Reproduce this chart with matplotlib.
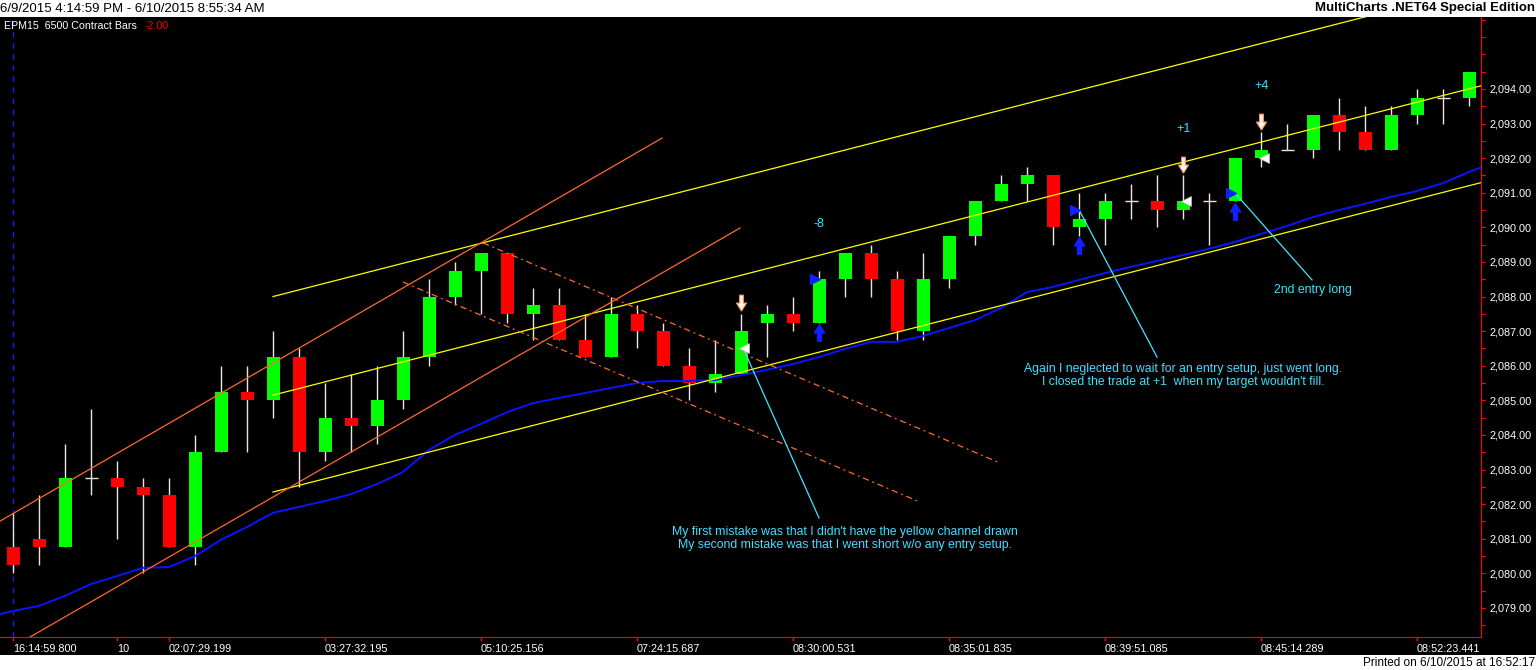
import numpy as np
import matplotlib.pyplot as plt
from matplotlib.path import Path
from matplotlib.patches import Rectangle
from matplotlib.ticker import MultipleLocator, FuncFormatter

plt.rcParams['font.family'] = ['Liberation Sans', 'DejaVu Sans']

# 6500 contract bars, EPM15
opens = [2080.75, 2081.00, 2080.75, 2082.75, 2082.75, 2082.50, 2082.25, 2080.75, 2083.50, 2085.25,
         2085.00, 2086.25, 2083.50, 2084.50, 2084.25, 2085.00, 2086.25, 2088.00, 2088.75, 2089.25,
         2087.50, 2087.75, 2086.75, 2086.25, 2087.50, 2087.00, 2086.00, 2085.50, 2085.75, 2087.25,
         2087.50, 2087.25, 2088.50, 2089.25, 2088.50, 2087.00, 2088.50, 2089.75, 2090.75, 2091.25,
         2091.50, 2090.00, 2090.25, 2090.75, 2090.75, 2090.50, 2090.75, 2090.75, 2092.00, 2092.25,
         2092.25, 2093.25, 2092.75, 2092.25, 2093.25, 2093.75, 2093.75]
highs = [2081.75, 2082.25, 2083.75, 2084.75, 2083.25, 2082.75, 2082.75, 2084.00, 2086.00, 2086.00,
         2087.00, 2086.50, 2085.50, 2085.75, 2086.00, 2087.00, 2088.50, 2089.00, 2089.25, 2089.25,
         2088.25, 2088.25, 2087.50, 2088.00, 2087.75, 2087.25, 2086.50, 2086.75, 2087.50, 2087.75,
         2088.00, 2088.75, 2089.25, 2089.50, 2088.75, 2089.25, 2089.75, 2090.75, 2091.50, 2091.75,
         2091.50, 2091.00, 2091.00, 2091.25, 2091.50, 2091.50, 2091.00, 2092.00, 2092.75, 2093.00,
         2093.25, 2093.75, 2093.50, 2093.50, 2094.00, 2094.00, 2094.50]
lows = [2080.00, 2080.25, 2080.75, 2082.25, 2081.00, 2080.00, 2080.75, 2080.25, 2083.50, 2083.50,
        2084.50, 2082.50, 2083.25, 2083.50, 2083.75, 2084.75, 2086.00, 2087.75, 2087.50, 2087.25,
        2086.75, 2086.75, 2086.25, 2086.25, 2086.50, 2086.00, 2085.00, 2085.25, 2085.75, 2086.25,
        2087.00, 2087.25, 2088.00, 2088.00, 2086.75, 2086.75, 2088.25, 2089.50, 2090.75, 2090.75,
        2089.50, 2089.75, 2089.50, 2090.25, 2090.00, 2090.25, 2089.50, 2090.75, 2091.75, 2092.25,
        2092.00, 2092.25, 2092.25, 2092.25, 2093.00, 2093.00, 2093.50]
closes = [2080.25, 2080.75, 2082.75, 2082.75, 2082.50, 2082.25, 2080.75, 2083.50, 2085.25, 2085.00,
          2086.25, 2083.50, 2084.50, 2084.25, 2085.00, 2086.25, 2088.00, 2088.75, 2089.25, 2087.50,
          2087.75, 2086.75, 2086.25, 2087.50, 2087.00, 2086.00, 2085.50, 2085.75, 2087.00, 2087.50,
          2087.25, 2088.50, 2089.25, 2088.50, 2087.00, 2088.50, 2089.75, 2090.75, 2091.25, 2091.50,
          2090.00, 2090.25, 2090.75, 2090.75, 2090.50, 2090.75, 2090.75, 2092.00, 2092.25, 2092.25,
          2093.25, 2092.75, 2092.25, 2093.25, 2093.75, 2093.75, 2094.50]

# moving average, bars -1 .. 57
ma_bars = list(range(-1, 58))
ma_vals = [2078.74, 2078.91, 2079.06, 2079.35, 2079.69, 2079.92, 2080.16, 2080.18, 2080.50, 2080.97,
           2081.34, 2081.75, 2081.92, 2082.09, 2082.29, 2082.58, 2082.93, 2083.57, 2084.00, 2084.32,
           2084.66, 2084.92, 2085.07, 2085.21, 2085.36, 2085.50, 2085.56, 2085.56, 2085.59, 2085.73,
           2085.88, 2086.05, 2086.25, 2086.49, 2086.69, 2086.69, 2086.86, 2087.09, 2087.32, 2087.67,
           2088.13, 2088.28, 2088.48, 2088.68, 2088.86, 2089.03, 2089.20, 2089.38, 2089.58, 2089.81,
           2090.04, 2090.30, 2090.50, 2090.68, 2090.88, 2091.05, 2091.28, 2091.60, 2091.89]

# drawings: (bar1, price1, bar2, price2)
yellow_lines = [(10, 2088.00, 56.5, 2096.95),
                (10, 2085.15, 56.5, 2094.10),
                (10, 2082.35, 56.5, 2091.30)]
orange_lines = [(-0.5, 2081.51, 24.96, 2092.58),
                (-0.5, 2077.66, 27.96, 2089.98)]
orange_dashed = [(18.08, 2089.55, 37.96, 2083.19),
                 (15.00, 2088.42, 34.88, 2082.06)]
pointer_lines = [(28.08, 2086.51, 31.0, 2081.60),
                 (41.04, 2090.45, 44.0, 2086.25),
                 (47.0, 2090.99, 49.96, 2088.48)]

# trades
sell_bars = [28, 45, 48]
sell_prices = [2086.50, 2090.75, 2092.00]
buy_bars = [31, 41, 47]
buy_prices = [2088.50, 2090.50, 2091.00]
pnl_bars = [31, 45, 48]
pnl_text = ['-8', '+1', '+4']

notes = [(32.0, 2081.0, "My first mistake was that I didn't have the yellow channel drawn\n"
                        "My second mistake was that I went short w/o any entry setup."),
         (45.0, 2085.72, "Again I neglected to wait for an entry setup, just went long.\n"
                         "I closed the trade at +1  when my target wouldn't fill."),
         (50.0, 2088.19, "2nd entry long")]

tick_bars = [0, 4, 6, 12, 18, 24, 30, 36, 42, 48, 54]
tick_labels = ['16:14:59.800', '10', '02:07:29.199', '03:27:32.195', '05:10:25.156',
               '07:24:15.687', '08:30:00.531', '08:35:01.835', '08:39:51.085',
               '08:45:14.289', '08:52:23.441']

opens, highs, lows, closes = map(np.array, (opens, highs, lows, closes))
idx = np.arange(len(opens))

fig = plt.figure(figsize=(15.36, 6.70), dpi=100, facecolor='black')
fig.add_artist(Rectangle((0, 1 - 17 / 670), 1, 17 / 670, transform=fig.transFigure,
                         facecolor='white', edgecolor='none'))
fig.add_artist(Rectangle((0, 0), 1, 15 / 670, transform=fig.transFigure,
                         facecolor='white', edgecolor='none'))
fig.text(0.0, 1 - 8.5 / 670, '6/9/2015 4:14:59 PM - 6/10/2015 8:55:34 AM', fontsize=9.5,
         color='black', ha='left', va='center')
fig.text(0.9995, 1 - 8.5 / 670, 'MultiCharts .NET64 Special Edition', fontsize=9.5,
         color='black', ha='right', va='center', fontweight='bold')
fig.text(0.9995, 7.5 / 670, 'Printed on 6/10/2015 at 16:52:17', fontsize=8.5,
         color='black', ha='right', va='center')

ax = fig.add_axes([0, 33 / 670, 1481 / 1536, 620 / 670], facecolor='black')
ax.set_xlim(-0.5, 56.46)
ax.set_ylim(2078.16, 2096.08)

wick = '#f2e2e2'
ax.vlines(idx, lows, highs, color=wick, lw=1, zorder=2)
up = closes > opens
dn = closes < opens
fl = closes == opens
ax.bar(idx[up], closes[up] - opens[up], bottom=opens[up], width=0.5, color='#00ff00',
       linewidth=0, zorder=3)
ax.bar(idx[dn], opens[dn] - closes[dn], bottom=closes[dn], width=0.5, color='#ff0000',
       linewidth=0, zorder=3)
ax.hlines(opens[fl], idx[fl] - 0.25, idx[fl] + 0.25, color=wick, lw=1, zorder=3)

ax.axvline(0, color='#1a1aee', lw=1, dashes=(4, 4), zorder=1)
ax.plot(ma_bars, ma_vals, color='#0a14ff', lw=1.4, zorder=4)

for x1, y1, x2, y2 in yellow_lines:
    ax.plot([x1, x2], [y1, y2], color='#ffff00', lw=0.9, zorder=5)
for x1, y1, x2, y2 in orange_lines:
    ax.plot([x1, x2], [y1, y2], color='#ff6a2a', lw=0.9, zorder=5)
for x1, y1, x2, y2 in orange_dashed:
    ax.plot([x1, x2], [y1, y2], color='#ff6a2a', lw=0.9, dashes=(5, 3, 1.5, 3), zorder=5)
for x1, y1, x2, y2 in pointer_lines:
    ax.plot([x1, x2], [y1, y2], color='#40e8ff', lw=0.9, zorder=5)

arrow_down = Path([(-0.22, 1), (0.22, 1), (0.22, 0.05), (0.6, 0.05), (0, -0.9),
                   (-0.6, 0.05), (-0.22, 0.05), (-0.22, 1)], closed=True)
arrow_up = Path([(x, -y) for x, y in arrow_down.vertices], closed=True)

sell_h = highs[sell_bars]
buy_l = lows[buy_bars]
ax.plot(sell_bars, sell_h + 0.3, ls='none', marker=arrow_down, ms=12,
        mfc='#fff4ee', mec='#ff9a66', mew=0.8, zorder=6)
ax.plot(buy_bars, buy_l - 0.27, ls='none', marker=arrow_up, ms=12.5,
        mfc='#1020ff', mec='#1020ff', zorder=6)
ax.plot(np.array(sell_bars) + 0.1, sell_prices, ls='none', marker='<', ms=6.5,
        mfc='white', mec='#c0c0c0', mew=0.5, zorder=6)
ax.plot(np.array(buy_bars) - 0.15, buy_prices, ls='none', marker='>', ms=6.5,
        mfc='#1020ff', mec='#1020ff', zorder=6)

for b, t in zip(pnl_bars, pnl_text):
    ax.text(b, highs[b] + 1.35, t, color='#3ee0ff', fontsize=9, ha='center', va='center')

for x, y, t in notes:
    ax.text(x, y, t, color='#3ee0ff', fontsize=8.8, ha='center', va='center',
            multialignment='center', linespacing=1.15, zorder=7)

# axes styling
for s in ('top', 'left'):
    ax.spines[s].set_visible(False)
ax.spines['right'].set_color('#ff0000')
ax.spines['bottom'].set_color('#ff0000')
ax.yaxis.tick_right()
ax.yaxis.set_major_locator(MultipleLocator(1))
ax.yaxis.set_minor_locator(MultipleLocator(0.5))
ax.yaxis.set_major_formatter(FuncFormatter(lambda v, p: f'{v:,.2f}' if v < 2095 else ''))
ax.tick_params(axis='y', which='both', colors='#ff0000', labelcolor='white',
               length=3, width=1, labelsize=7.8, pad=3)
ax.set_xticks(tick_bars, tick_labels)
ax.tick_params(axis='x', colors='#ff0000', labelcolor='white', length=3, width=1,
               labelsize=7.8, pad=2)
for lbl in ax.get_xticklabels():
    lbl.set_ha('left')

ax.text(0.003, 0.985, 'EPM15  6500 Contract Bars', transform=ax.transAxes, color='white',
        fontsize=7.7, ha='left', va='center')
ax.text(145 / 1481, 0.985, '-2.00', transform=ax.transAxes, color='#ff0000',
        fontsize=7.7, ha='left', va='center')

fig.savefig('out.png', dpi=100, facecolor=fig.get_facecolor())
